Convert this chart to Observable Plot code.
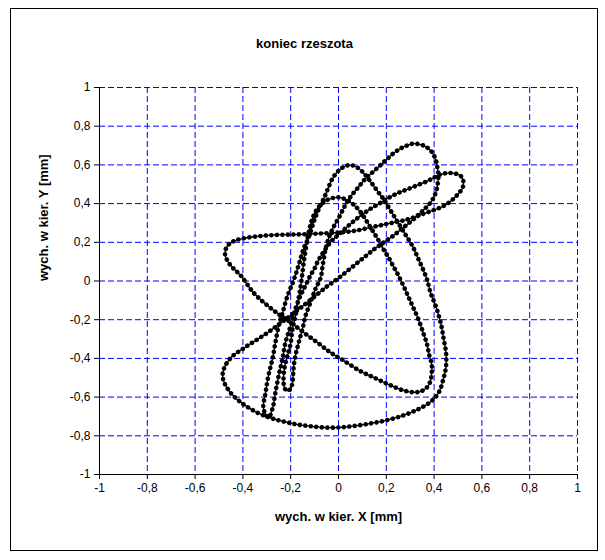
<!DOCTYPE html>
<html>
<head>
<meta charset="utf-8">
<script src="https://cdn.jsdelivr.net/npm/d3@7"></script>
<script src="https://cdn.jsdelivr.net/npm/@observablehq/plot@0.6"></script>
<style>
  html, body { margin: 0; padding: 0; background: #fff; }
</style>
</head>
<body>
<div id="chart"></div>
<script>
// Tytuły i podziałki osi
const chartTitle = "koniec rzeszota";
const xTitle = "wych. w kier. X [mm]";
const yTitle = "wych. w kier. Y [mm]";
const xTicks = [-1, -0.8, -0.6, -0.4, -0.2, 0, 0.2, 0.4, 0.6, 0.8, 1];
const yTicks = [-1, -0.8, -0.6, -0.4, -0.2, 0, 0.2, 0.4, 0.6, 0.8, 1];

// Trajektoria końca rzeszota (jeden pełny cykl), wychylenia w mm
const wychX = [
  -0.41, -0.44, -0.465, -0.475, -0.465, -0.44, -0.40,
  -0.33, -0.26, -0.19, -0.12, -0.05, 0.02, 0.08, 0.146, 0.19, 0.23, 0.272, 0.314, 0.356, 0.393, 0.427, 0.456, 0.481, 0.502, 0.518, 0.523, 0.515, 0.49, 0.456, 0.425,
  0.40, 0.37, 0.33, 0.29, 0.25, 0.21, 0.17, 0.13, 0.09, 0.05, 0.01, -0.03, -0.06, -0.085, -0.10, -0.117,
  -0.138, -0.159, -0.18, -0.2, -0.222, -0.234, -0.25, -0.264, -0.276, -0.293,
  -0.314, -0.305, -0.293, -0.276, -0.264, -0.25, -0.234, -0.213, -0.192, -0.175,
  -0.16, -0.145, -0.125, -0.105, -0.085, -0.06, -0.04, -0.02, 0.01, 0.04, 0.07, 0.10, 0.13, 0.16, 0.19, 0.22, 0.25, 0.28, 0.31, 0.33, 0.35, 0.37,
  0.385, 0.41, 0.43, 0.44, 0.45, 0.45, 0.44, 0.42, 0.385, 0.33, 0.27, 0.2, 0.13, 0.06, 0, -0.06, -0.12, -0.17, -0.21, -0.25, -0.29,
  -0.34, -0.40, -0.45, -0.478, -0.485, -0.475, -0.445, -0.40, -0.35, -0.30, -0.245, -0.20, -0.15, -0.095, -0.045,
  0.0, 0.06, 0.11, 0.15, 0.19, 0.23, 0.27, 0.31, 0.35, 0.385, 0.405, 0.415, 0.418,
  0.414, 0.406, 0.385, 0.356, 0.314, 0.29, 0.26, 0.23, 0.19, 0.15, 0.11, 0.08, 0.05, 0.025, 0.005, -0.02, -0.04, -0.055, -0.065, -0.075,
  -0.096, -0.117, -0.138, -0.15, -0.167, -0.18, -0.188, -0.192, -0.2, -0.213, -0.225, -0.23, -0.226, -0.213, -0.2, -0.192, -0.18, -0.17, -0.16, -0.152,
  -0.145, -0.135, -0.125, -0.11, -0.09, -0.065, -0.035, 0, 0.03, 0.06, 0.09, 0.115, 0.14, 0.165, 0.19, 0.21, 0.23, 0.25, 0.27,
  0.29, 0.31, 0.335, 0.355, 0.37, 0.38, 0.39, 0.39, 0.384, 0.37, 0.345, 0.315, 0.27, 0.21, 0.15, 0.09, 0.02, -0.033, -0.088, -0.146, -0.2, -0.243, -0.297, -0.356
];
const wychY = [
  0.03, 0.065, 0.105, 0.145, 0.18, 0.205, 0.22,
  0.232, 0.238, 0.24, 0.243, 0.247, 0.252, 0.262, 0.28, 0.292, 0.302, 0.313, 0.328, 0.348, 0.364, 0.38, 0.40, 0.425, 0.452, 0.478, 0.51, 0.538, 0.555, 0.558, 0.55,
  0.535, 0.515, 0.495, 0.475, 0.455, 0.43, 0.40, 0.37, 0.335, 0.295, 0.25, 0.205, 0.155, 0.105, 0.065, 0.03,
  -0.023, -0.075, -0.142, -0.23, -0.318, -0.4, -0.488, -0.576, -0.659, -0.705,
  -0.659, -0.576, -0.488, -0.4, -0.318, -0.23, -0.163, -0.075, -0.01, 0.05,
  0.11, 0.17, 0.225, 0.30, 0.365, 0.43, 0.49, 0.54, 0.58, 0.598, 0.593, 0.565, 0.52, 0.47, 0.42, 0.36, 0.30, 0.24, 0.18, 0.125, 0.07, 0.01,
  -0.06, -0.14, -0.23, -0.30, -0.37, -0.44, -0.50, -0.575, -0.625, -0.665, -0.695, -0.72, -0.737, -0.75, -0.757, -0.757, -0.75, -0.742, -0.732, -0.72, -0.705,
  -0.68, -0.635, -0.58, -0.525, -0.485, -0.44, -0.39, -0.35, -0.31, -0.27, -0.22, -0.178, -0.13, -0.075, -0.025,
  0.015, 0.075, 0.125, 0.165, 0.2, 0.235, 0.275, 0.315, 0.36, 0.405, 0.45, 0.5, 0.545,
  0.585, 0.63, 0.675, 0.70, 0.71, 0.702, 0.685, 0.66, 0.615, 0.57, 0.525, 0.48, 0.435, 0.385, 0.335, 0.28, 0.225, 0.16, 0.09, 0.015,
  -0.04, -0.11, -0.18, -0.245, -0.32, -0.385, -0.45, -0.52, -0.556, -0.568, -0.555, -0.52, -0.45, -0.385, -0.32, -0.245, -0.18, -0.11, -0.04, 0.03,
  0.1, 0.18, 0.25, 0.32, 0.37, 0.405, 0.425, 0.432, 0.422, 0.398, 0.36, 0.315, 0.265, 0.215, 0.16, 0.12, 0.075, 0.03, -0.02,
  -0.075, -0.13, -0.2, -0.27, -0.325, -0.385, -0.43, -0.475, -0.52, -0.55, -0.57, -0.575, -0.565, -0.535, -0.50, -0.465, -0.41, -0.37, -0.318, -0.266, -0.214, -0.178, -0.127, -0.06
];

const points = wychX.map((x, i) => ({x, y: wychY[i]}));
const fmt = d => String(d).replace(".", ",");
const blue = "#0000ff";

const chart = Plot.plot({
  width: 605,
  height: 560,
  marginLeft: 99,
  marginRight: 28,
  marginTop: 87,
  marginBottom: 86,
  x: {domain: [-1, 1]},
  y: {domain: [-1, 1]},
  style: {fontFamily: "'Liberation Sans', Arial, sans-serif", fontSize: "12px", color: "black", background: "white"},
  marks: [
    Plot.gridX(xTicks, {stroke: blue, strokeOpacity: 1, strokeDasharray: "6,3"}),
    Plot.gridY(yTicks, {stroke: blue, strokeOpacity: 1, strokeDasharray: "6,3"}),
    Plot.ruleX([-1], {stroke: "black"}),
    Plot.ruleY([-1], {stroke: "black"}),
    Plot.axisX({ticks: xTicks, tickFormat: fmt, tickSize: 5, tickPadding: 4, label: null, fontSize: 12}),
    Plot.axisY({ticks: yTicks, tickFormat: fmt, tickSize: 5, tickPadding: 4, label: null, fontSize: 12}),
    Plot.line(points, {x: "x", y: "y", curve: "catmull-rom-closed", stroke: "black", strokeWidth: 1.3}),
    Plot.line(points, {x: "x", y: "y", curve: "catmull-rom-closed", stroke: "black", strokeWidth: 4.6,
      strokeLinecap: "round", strokeDasharray: "0.01,5.5"}),
    Plot.text([chartTitle], {frameAnchor: "top", dx: -34, dy: -49, fontWeight: "bold", fontSize: 13}),
    Plot.text([xTitle], {frameAnchor: "bottom", dy: 46, fontWeight: "bold", fontSize: 13}),
    Plot.text([yTitle], {frameAnchor: "left", dx: -56, rotate: -90, fontWeight: "bold", fontSize: 13})
  ]
});

// Ramka obszaru wykresu
d3.select(chart).append("rect")
  .attr("x", 10.5).attr("y", 8.5)
  .attr("width", 587).attr("height", 542)
  .attr("fill", "none").attr("stroke", "black");

document.getElementById("chart").appendChild(chart);
</script>
</body>
</html>
